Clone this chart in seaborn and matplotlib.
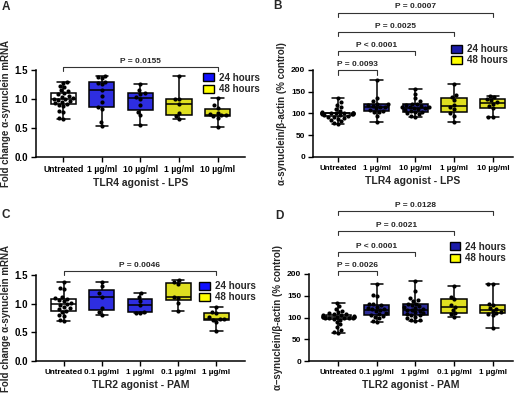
import pandas as pd
import matplotlib.pyplot as plt
import seaborn as sns
from matplotlib.patches import Patch

sns.set_style("ticks")
plt.rcParams['font.family'] = ['Liberation Sans', 'DejaVu Sans']
plt.rcParams['font.weight'] = 'bold'

# ---- data ----
lps_groups = ['Untreated', 'LPS 1 24h', 'LPS 10 24h', 'LPS 1 48h', 'LPS 10 48h']
lps_labels = ['Untreated', '1 µg/ml', '10 µg/ml', '1 µg/ml', '10 µg/ml']
pam_groups = ['Untreated', 'PAM 0.1 24h', 'PAM 1 24h', 'PAM 0.1 48h', 'PAM 1 48h']
pam_labels = ['Untreated', '0.1 µg/ml', '1 µg/ml', '0.1 µg/ml', '1 µg/ml']

# A: LPS mRNA fold change
a_untreated = [0.66, 0.67, 0.78, 0.80, 0.88, 0.90, 0.91, 0.93, 0.95, 0.97, 0.98, 1.00,
               1.00, 1.02, 1.04, 1.05, 1.08, 1.10, 1.13, 1.15, 1.20, 1.22, 1.27, 1.30]
a_lps1_24 = [0.53, 0.60, 0.82, 0.86, 0.95, 1.05, 1.15, 1.25, 1.27, 1.30, 1.36, 1.38, 1.40]
a_lps10_24 = [0.55, 0.72, 0.78, 0.90, 1.00, 1.03, 1.08, 1.10, 1.15, 1.25]
a_lps1_48 = [0.65, 0.70, 0.75, 0.92, 1.00, 1.00, 1.40]
a_lps10_48 = [0.52, 0.68, 0.70, 0.72, 0.72, 0.74, 0.76, 0.85, 0.90, 1.02]

# B: LPS protein (% control)
b_untreated = [76, 78, 82, 85, 88, 90, 92, 93, 94, 96, 97, 98, 99, 99, 100, 100, 100, 101,
               101, 101, 102, 102, 102, 103, 106, 110, 115, 120, 126, 135]
b_lps1_24 = [80, 95, 103, 104, 105, 108, 112, 115, 116, 118, 120, 121, 122, 128, 135, 176]
b_lps10_24 = [93, 95, 98, 100, 103, 104, 105, 108, 110, 112, 113, 114, 115, 116, 118, 120,
              121, 122, 128, 135, 145, 156]
b_lps1_48 = [80, 95, 100, 110, 115, 120, 130, 138, 142, 167]
b_lps10_48 = [92, 93, 112, 118, 122, 126, 130, 133, 137, 140]

# C: PAM mRNA fold change
c_untreated = [0.69, 0.72, 0.78, 0.80, 0.85, 0.88, 0.90, 0.92, 0.95, 0.98, 1.00, 1.02,
               1.05, 1.07, 1.08, 1.10, 1.12, 1.25, 1.28, 1.38]
c_pam01_24 = [0.80, 0.86, 0.92, 1.12, 1.18, 1.30, 1.38]
c_pam1_24 = [0.83, 0.84, 0.86, 0.97, 1.05, 1.12, 1.18]
c_pam01_48 = [0.87, 1.02, 1.10, 1.12, 1.34, 1.38, 1.41]
c_pam1_48 = [0.52, 0.68, 0.72, 0.73, 0.74, 0.76, 0.84, 0.86, 0.94]

# D: PAM protein (% control)
d_untreated = [64, 66, 72, 78, 85, 90, 95, 97, 98, 99, 100, 100, 100, 101, 101, 101, 102,
               102, 103, 104, 105, 106, 107, 108, 110, 112, 115, 120, 126, 134]
d_pam01_24 = [90, 92, 98, 102, 104, 105, 108, 110, 115, 117, 119, 120, 122, 125, 128, 130,
              132, 150, 152, 176]
d_pam1_24 = [92, 94, 95, 98, 102, 105, 106, 108, 110, 112, 115, 117, 118, 120, 122, 124,
             126, 128, 130, 132, 138, 140, 145, 160, 184]
d_pam01_48 = [102, 108, 111, 118, 125, 128, 142, 148, 173]
d_pam1_48 = [77, 105, 108, 110, 112, 115, 120, 122, 128, 132, 176, 178]

# significance brackets: (end group index, label)
a_sig = [(4, 'P = 0.0155')]
b_sig = [(1, 'P = 0.0093'), (2, 'P < 0.0001'), (3, 'P = 0.0025'), (4, 'P = 0.0007')]
c_sig = [(4, 'P = 0.0046')]
d_sig = [(1, 'P = 0.0026'), (2, 'P < 0.0001'), (3, 'P = 0.0021'), (4, 'P = 0.0128')]


def make_df(groups, values):
    rows = []
    for g, vals in zip(groups, values):
        for v in vals:
            rows.append((g, v))
    return pd.DataFrame(rows, columns=['group', 'value'])


W, H = 520, 393


def px_axes(fig, left, top, right, bottom):
    return fig.add_axes([left / W, 1 - bottom / H, (right - left) / W, (bottom - top) / H])


fig = plt.figure(figsize=(5.2, 3.93), dpi=100)

white = '#ffffff'
yellow = '#ffff00'

panels = [
    dict(pos=(36, 70, 245, 157), groups=lps_groups, labels=lps_labels,
         values=[a_untreated, a_lps1_24, a_lps10_24, a_lps1_48, a_lps10_48],
         blue='#1010ff', xlim=(-0.707, 4.71), ylim=(0, 1.5), yticks=[0, 0.5, 1.0, 1.5],
         fmt='{:.1f}', ylabel='Fold change α-synuclein mRNA', xlabel='TLR4 agonist - LPS',
         sig=a_sig, sig_y=[1.56], drop=0.07, txt_off=0.03, leg=(0.80, 0.97),
         letter=('A', 6, 7), xt=6.2, yt=7),
    dict(pos=(313, 70, 513, 157), groups=lps_groups, labels=lps_labels,
         values=[b_untreated, b_lps1_24, b_lps10_24, b_lps1_48, b_lps10_48],
         blue='#1c1ca8', xlim=(-0.64, 4.52), ylim=(0, 200), yticks=[0, 50, 100, 150, 200],
         fmt='{:d}', ylabel='α-synuclein/β-actin (% control)', xlabel='TLR4 agonist - LPS',
         sig=b_sig, sig_y=[199, 244, 288, 332], drop=10, txt_off=5, leg=(0.69, 1.30),
         letter=('B', 277, 6), xt=5.8, yt=6),
    dict(pos=(36, 275, 245, 361), groups=pam_groups, labels=pam_labels,
         values=[c_untreated, c_pam01_24, c_pam1_24, c_pam01_48, c_pam1_48],
         blue='#1010ff', xlim=(-0.72, 4.75), ylim=(0, 1.5), yticks=[0, 0.5, 1.0, 1.5],
         fmt='{:.1f}', ylabel='Fold change α-synuclein mRNA', xlabel='TLR2 agonist - PAM',
         sig=c_sig, sig_y=[1.57], drop=0.07, txt_off=0.03, leg=(0.78, 0.93),
         letter=('C', 6, 215), xt=5.9, yt=7),
    dict(pos=(309, 274, 513, 361), groups=pam_groups, labels=pam_labels,
         values=[d_untreated, d_pam01_24, d_pam1_24, d_pam01_48, d_pam1_48],
         blue='#1c1ca8', xlim=(-0.76, 4.53), ylim=(0, 200), yticks=[0, 50, 100, 150, 200],
         fmt='{:d}', ylabel='α–synuclein/β-actin (% control)', xlabel='TLR2 agonist - PAM',
         sig=d_sig, sig_y=[207, 251, 299, 345], drop=10, txt_off=5, leg=(0.69, 1.37),
         letter=('D', 279, 216), xt=5.8, yt=6),
]

for p in panels:
    ax = px_axes(fig, *p['pos'])
    df = make_df(p['groups'], p['values'])
    pal = dict(zip(p['groups'], [white, p['blue'], p['blue'], yellow, yellow]))
    sns.boxplot(data=df, x='group', y='value', hue='group', order=p['groups'],
                palette=pal, whis=(0, 100), width=0.65, linecolor='black',
                linewidth=1.1, showfliers=False, legend=False, ax=ax)
    sns.swarmplot(data=df, x='group', y='value', order=p['groups'], color='black',
                  size=3, ax=ax, zorder=5)
    ax.set_xlim(*p['xlim'])
    ax.set_ylim(*p['ylim'])
    ax.set_yticks(p['yticks'])
    ax.set_yticklabels([p['fmt'].format(t) for t in p['yticks']])
    ax.set_xticks(range(5))
    ax.set_xticklabels(p['labels'], fontsize=p['xt'], fontweight='bold')
    for t in ax.get_yticklabels():
        t.set_fontweight('bold')
        t.set_fontsize(p['yt'])
    ax.tick_params(axis='both', length=3.5, width=1, pad=2, colors='black')
    for s in ['left', 'bottom']:
        ax.spines[s].set_linewidth(1.1)
        ax.spines[s].set_color('black')
    sns.despine(ax=ax)
    ax.set_xlabel(p['xlabel'], fontsize=7.5, fontweight='bold', labelpad=3)
    ax.set_ylabel(p['ylabel'], fontsize=7, fontweight='bold', labelpad=3)

    # brackets
    for (end, lab), y in zip(p['sig'], p['sig_y']):
        ax.plot([0, 0, end, end], [y - p['drop'], y, y, y - p['drop']], color='#333333',
                lw=0.8, clip_on=False)
        ax.text(end / 2, y + p['txt_off'], lab, ha='center', va='bottom', fontsize=6,
                fontweight='bold')

    handles = [Patch(facecolor=p['blue'], edgecolor='black', label='24 hours'),
               Patch(facecolor=yellow, edgecolor='black', label='48 hours')]
    ax.legend(handles=handles, loc='upper left', bbox_to_anchor=p['leg'], frameon=False,
              borderpad=0, borderaxespad=0, handlelength=1.1, handleheight=0.9,
              handletextpad=0.5, labelspacing=0.15, prop={'size': 7, 'weight': 'bold'})

    letter, lx, ly = p['letter']
    fig.text(lx / W, 1 - ly / H, letter, ha='center', va='center', fontsize=8.5,
             fontweight='bold')

fig.savefig('out.png', dpi=100)
